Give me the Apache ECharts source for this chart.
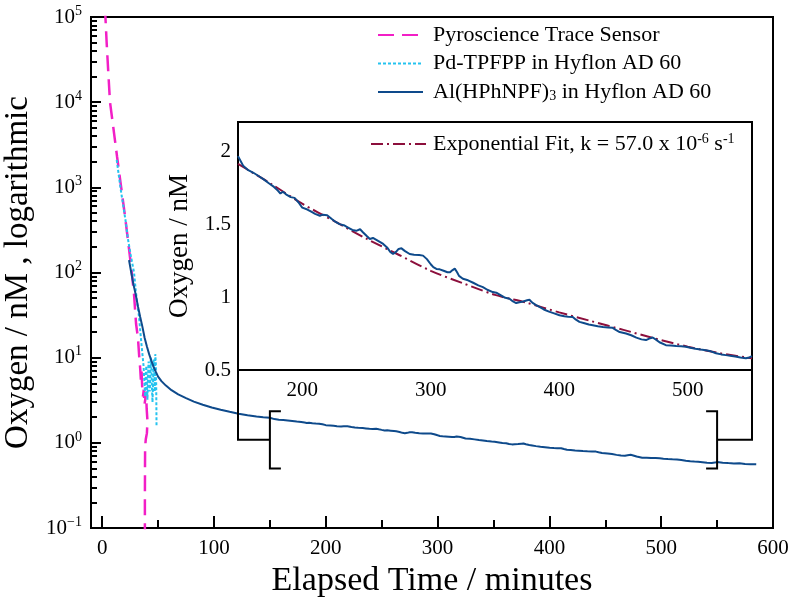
<!DOCTYPE html>
<html><head><meta charset="utf-8">
<script src="https://cdn.jsdelivr.net/npm/echarts@6/dist/echarts.min.js"></script>
<style>html,body{margin:0;padding:0;background:#fff}#c{width:800px;height:605px}</style>
</head><body><div id="c"></div>
<script>
// ---------- data ----------
const pyroX = [2.5, 2.9, 4, 5.5, 7, 10, 13.3, 17, 20.5, 24, 26.5, 28.5, 30.3, 32, 33.2, 34, 34.6, 35.2, 35.8, 36.5, 37.2, 37.8, 38.5, 39.2, 39.8, 40.5, 40, 39, 38.4, 38.3, 38.2, 38.2];
const pyroY = [130000, 100000, 50000, 22000, 10000, 5000, 2300, 1000, 450, 190, 100, 55, 25, 17, 10, 7.5, 5.5, 7, 4.5, 3.5, 4.2, 2.8, 3.2, 4, 2.5, 1.8, 1.3, 1.1, 0.9, 0.5, 0.2, 0.08];

const pdX = [13, 14.5, 16.3, 18.5, 21, 23, 25.5, 28.5, 30, 31.5, 33, 34, 35, 36, 37, 37.5, 38, 38.5, 39, 39.5, 40, 40.5, 41, 41.5, 42, 42.5, 43, 43.5, 44, 44.5, 45, 45.5, 46, 46.5, 47, 47.5, 48, 48.3, 48.5, 48.6];
const pdY = [2100, 1500, 1000, 650, 400, 250, 160, 100, 62, 42, 30, 21, 15, 11, 8, 6, 4.5, 3.5, 6.5, 8, 5, 3.2, 6, 9, 7, 4, 5.5, 10, 8, 4.5, 3, 5, 9.5, 7, 4, 11, 8.5, 5, 2.5, 1.6];

const alX = [24, 26, 28, 30, 32, 34, 36, 38, 40, 42, 44, 46, 48, 50, 53, 57, 62, 68, 75, 82, 90, 98, 106, 114, 122, 130, 138, 144,
  150, 154, 158, 162, 166, 170, 174, 178, 181, 183, 185, 188, 191, 194, 197, 200, 204, 207, 210, 213.7, 216, 219.4, 223, 226, 229, 233, 236, 239, 242, 245, 247.4, 250,
  252.6, 255, 258, 261, 263, 266, 268.5, 270.7, 273, 275, 277.2, 280, 283.6, 287, 291, 294, 297, 300, 302, 304.4, 307, 310, 313, 315, 317, 318.7, 320.5, 322, 325, 329,
  333, 337, 340.6, 344, 348.3, 351, 355, 358, 361.3, 364, 366.5, 369, 372, 375, 376.8, 379, 382, 384.6, 388, 392, 396, 400.2, 404, 407, 410.5, 413, 415.7, 419, 423, 426.1,
  430, 434, 438, 441.6, 444, 447, 452, 456, 460, 464, 467.5, 470, 472.7, 475, 478, 483, 487, 491, 495, 498.6, 502, 506, 510, 514.1, 518, 522, 526, 529.7, 533, 537, 541, 545.2,
  548, 550, 555, 560, 565, 570, 575, 580, 585];
const alY = [140, 100, 72, 55, 40, 30, 23, 17, 13.5, 11, 9.2, 7.8, 6.8, 6.0, 5.3, 4.7, 4.15, 3.7, 3.35, 3.05, 2.8, 2.6, 2.45, 2.32, 2.2, 2.11, 2.04, 2.0,
  1.966, 1.90, 1.87, 1.852, 1.83, 1.807, 1.78, 1.755, 1.73, 1.71, 1.722, 1.70, 1.685, 1.68, 1.65, 1.613, 1.60, 1.585, 1.57, 1.557, 1.565, 1.561, 1.535, 1.515, 1.50, 1.49, 1.475, 1.46, 1.454, 1.465, 1.443, 1.42,
  1.398, 1.405, 1.39, 1.375, 1.364, 1.34, 1.31, 1.295, 1.31, 1.33, 1.334, 1.315, 1.295, 1.29, 1.288, 1.284, 1.26, 1.225, 1.205, 1.193, 1.19, 1.18, 1.17, 1.17, 1.185, 1.195, 1.17, 1.145, 1.125, 1.115,
  1.098, 1.08, 1.068, 1.05, 1.034, 1.03, 1.01, 0.995, 0.989, 0.97, 0.959, 0.965, 0.97, 0.978, 0.982, 0.962, 0.945, 0.932, 0.915, 0.9, 0.888, 0.875, 0.868, 0.865, 0.864, 0.845, 0.83, 0.822, 0.812, 0.807,
  0.8, 0.795, 0.792, 0.789, 0.775, 0.76, 0.75, 0.738, 0.722, 0.71, 0.705, 0.715, 0.723, 0.71, 0.69, 0.67, 0.668, 0.664, 0.662, 0.659, 0.652, 0.645, 0.64, 0.636, 0.628, 0.615, 0.607, 0.602, 0.598, 0.592, 0.585, 0.58,
  0.586, 0.595, 0.585, 0.578, 0.572, 0.575, 0.565, 0.562, 0.56];

const fitX = [150, 175, 200, 225, 250, 275, 300, 325, 350, 375, 400, 425, 450, 475, 500, 525, 550];
const fitY = [1.913, 1.78, 1.64, 1.52, 1.40, 1.29, 1.18, 1.095, 1.015, 0.96, 0.895, 0.835, 0.775, 0.715, 0.66, 0.615, 0.58];

const mainXTicks = [0, 100, 200, 300, 400, 500, 600];
const mainXMinorTicks = [50, 150, 250, 350, 450, 550];
const insetXTicks = [200, 300, 400, 500];
const insetXMinorTicks = [250, 350, 450];
const insetYTicks = [0.5, 1, 1.5, 2];
const insetYMinorTicks = [0.75, 1.25, 1.75];
const bracketX = [150, 550];
const bracketY = [0.5, 2.35];

const names = ['Pyroscience Trace Sensor', 'Pd-TPFPP in Hyflon AD 60', 'Al(HPhNPF)3 in Hyflon AD 60'];
const fitName = 'Exponential Fit, k = 57.0 x 10-6 s-1';

// ---------- build ----------
const zip = (xs, ys) => xs.map((x, i) => [x, ys[i]]);
const logMinor = [];
for (let e = -1; e <= 4; e++) for (let k = 2; k <= 9; k++) logMinor.push(Math.log10(k * Math.pow(10, e)));

const FONT = 'Liberation Serif';
const C_PYRO = '#f21fc6', C_PD = '#25c3ef', C_AL = '#0e4a8b', C_FIT = '#8c0f3c';

const chart = echarts.init(document.getElementById('c'), null, {renderer: 'canvas'});
const tickStyle = {lineStyle: {color: '#000', width: 2}};
const noLine = {show: false, onZero: false};
const option = {
  animation: false,
  backgroundColor: '#fff',
  textStyle: {fontFamily: FONT, color: '#000'},
  grid: [
    {left: 91, top: 17, right: 27, bottom: 77, show: true, borderColor: '#000', borderWidth: 2, backgroundColor: 'transparent',
     containLabel: false, outerBoundsMode: 'none'},
    {left: 238, top: 122, right: 48, bottom: 235, show: true, borderColor: '#000', borderWidth: 2, backgroundColor: '#fff', z: 3,
     containLabel: false, outerBoundsMode: 'none'}
  ],
  legend: [
    {data: names, orient: 'vertical', left: 372, top: 19, itemWidth: 45, itemHeight: 14, itemGap: 6.5,
     itemStyle: {opacity: 0},
     textStyle: {fontFamily: FONT, fontSize: 22, color: '#000', padding: [0, 0, 0, 5],
       rich: {sub: {fontFamily: FONT, fontSize: 14, padding: [9, 0, 0, 0]}}},
     formatter: n => n.replace('PF)3', 'PF){sub|3}')},
    {data: [fitName], left: 365, top: 127, itemWidth: 55, itemHeight: 14,
     itemStyle: {opacity: 0},
     textStyle: {fontFamily: FONT, fontSize: 22, color: '#000', padding: [0, 0, 0, 2],
       rich: {sup: {fontFamily: FONT, fontSize: 14, padding: [0, 0, 10, 0]}}},
     formatter: n => n.replace('10-6', '10{sup|-6}').replace('s-1', 's{sup|-1}')}
  ],
  xAxis: [
    {type: 'value', gridIndex: 0, min: -10, max: 600, position: 'bottom',
     axisLine: {onZero: false, lineStyle: {color: '#000', width: 2}}, splitLine: {show: false},
     axisTick: {inside: true, length: 12, customValues: mainXTicks, ...tickStyle},
     axisLabel: {customValues: mainXTicks, fontSize: 21, color: '#000', margin: 10, fontFamily: FONT},
     name: 'Elapsed Time / minutes', nameLocation: 'middle', nameGap: 32,
     nameTextStyle: {fontSize: 34, color: '#000', fontFamily: FONT}},
    {type: 'value', gridIndex: 0, min: -10, max: 600, position: 'bottom',
     axisLine: noLine, splitLine: {show: false}, axisLabel: {show: false},
     axisTick: {inside: true, length: 8, customValues: mainXMinorTicks, ...tickStyle}},
    {type: 'value', gridIndex: 1, min: 150, max: 550, position: 'bottom',
     axisLine: {onZero: false, lineStyle: {color: '#000', width: 2}}, splitLine: {show: false},
     axisTick: {inside: true, length: 12, customValues: insetXTicks, ...tickStyle},
     axisLabel: {customValues: insetXTicks, fontSize: 21, color: '#000', margin: 10, fontFamily: FONT}},
    {type: 'value', gridIndex: 1, min: 150, max: 550, position: 'bottom',
     axisLine: noLine, splitLine: {show: false}, axisLabel: {show: false},
     axisTick: {inside: true, length: 7, customValues: insetXMinorTicks, ...tickStyle}}
  ],
  yAxis: [
    {type: 'log', gridIndex: 0, min: 0.1, max: 100000, logBase: 10,
     axisLine: {onZero: false, lineStyle: {color: '#000', width: 2}}, splitLine: {show: false},
     axisTick: {inside: true, length: 10, ...tickStyle},
     axisLabel: {fontSize: 21, color: '#000', margin: 9, fontFamily: FONT,
       formatter: v => { const e = Math.round(Math.log10(v)); return '10{sup|' + (e < 0 ? '\u2212' + (-e) : e) + '}'; },
       rich: {sup: {fontFamily: FONT, fontSize: 14, padding: [0, 0, 12, 0]}}},
     name: 'Oxygen / nM , logarithmic', nameLocation: 'middle', nameGap: 46,
     nameTextStyle: {fontSize: 33, color: '#000', fontFamily: FONT}},
    {type: 'value', gridIndex: 0, min: -1, max: 5, position: 'left',
     axisLine: noLine, splitLine: {show: false}, axisLabel: {show: false},
     axisTick: {inside: true, length: 6, customValues: logMinor, lineStyle: {color: '#000', width: 2}}},
    {type: 'value', gridIndex: 1, min: 0.5, max: 2.2, position: 'left',
     axisLine: {onZero: false, lineStyle: {color: '#000', width: 2}}, splitLine: {show: false},
     axisTick: {inside: true, length: 12, customValues: insetYTicks, ...tickStyle},
     axisLabel: {customValues: insetYTicks, fontSize: 21, color: '#000', margin: 7, fontFamily: FONT},
     name: 'Oxygen / nM', nameLocation: 'middle', nameGap: 40,
     nameTextStyle: {fontSize: 27, color: '#000', fontFamily: FONT}},
    {type: 'value', gridIndex: 1, min: 0.5, max: 2.2, position: 'left',
     axisLine: noLine, splitLine: {show: false}, axisLabel: {show: false},
     axisTick: {inside: true, length: 7, customValues: insetYMinorTicks, ...tickStyle}}
  ],
  series: [
    {name: names[0], type: 'line', xAxisIndex: 0, yAxisIndex: 0, symbol: 'none', data: zip(pyroX, pyroY),
     lineStyle: {color: C_PYRO, width: 2.5, type: [16, 8]}, itemStyle: {color: C_PYRO}},
    {name: names[1], type: 'line', xAxisIndex: 0, yAxisIndex: 0, symbol: 'none', data: zip(pdX, pdY),
     lineStyle: {color: C_PD, width: 2, type: [3, 2]}, itemStyle: {color: C_PD}},
    {name: names[2], type: 'line', xAxisIndex: 0, yAxisIndex: 0, symbol: 'none', data: zip(alX, alY),
     lineStyle: {color: C_AL, width: 2}, itemStyle: {color: C_AL}},
    {name: fitName, type: 'line', xAxisIndex: 2, yAxisIndex: 2, symbol: 'none', smooth: 0.3, data: zip(fitX, fitY), z: 4,
     lineStyle: {color: C_FIT, width: 2, type: [12, 4, 2, 4]}, itemStyle: {color: C_FIT}},
    {name: names[2], type: 'line', xAxisIndex: 2, yAxisIndex: 2, symbol: 'none', z: 5,
     data: zip(alX, alY).filter(p => p[0] >= 150 && p[0] <= 550),
     lineStyle: {color: C_AL, width: 2}, itemStyle: {color: C_AL}}
  ]
};
chart.setOption(option);

// connectors between the zoomed region (main chart) and the inset
const px = (q, v) => chart.convertToPixel(q, v);
const iL = px({xAxisIndex: 2, yAxisIndex: 2}, [bracketX[0], insetYTicks[0]]);
const iR = px({xAxisIndex: 2, yAxisIndex: 2}, [bracketX[1], insetYTicks[0]]);
const bLt = px({xAxisIndex: 0, yAxisIndex: 0}, [bracketX[0], bracketY[1]]);
const bLb = px({xAxisIndex: 0, yAxisIndex: 0}, [bracketX[0], bracketY[0]]);
const bRt = px({xAxisIndex: 0, yAxisIndex: 0}, [bracketX[1], bracketY[1]]);
const bRb = px({xAxisIndex: 0, yAxisIndex: 0}, [bracketX[1], bracketY[0]]);
const midY = (bLt[1] + bLb[1]) / 2;
const tip = 11;
const ls = {stroke: '#000', lineWidth: 2, fill: null};
chart.setOption({graphic: [
  {type: 'polyline', shape: {points: [iL, [iL[0], midY], [bLt[0], midY]]}, style: ls, z: 10},
  {type: 'polyline', shape: {points: [[bLt[0] + tip, bLt[1]], bLt, bLb, [bLb[0] + tip, bLb[1]]]}, style: ls, z: 10},
  {type: 'polyline', shape: {points: [iR, [iR[0], midY], [bRt[0], midY]]}, style: ls, z: 10},
  {type: 'polyline', shape: {points: [[bRt[0] - tip, bRt[1]], bRt, bRb, [bRb[0] - tip, bRb[1]]]}, style: ls, z: 10}
]});
</script>
</body></html>
